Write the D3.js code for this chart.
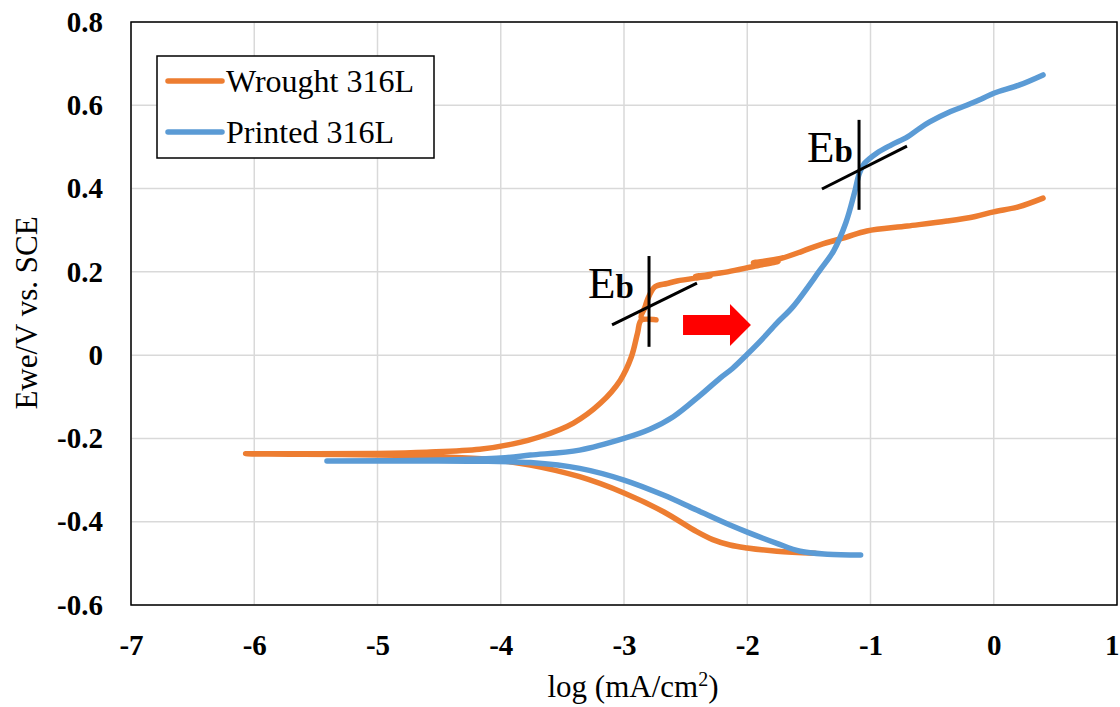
<!DOCTYPE html>
<html>
<head>
<meta charset="utf-8">
<script src="https://cdn.jsdelivr.net/npm/d3@7"></script>
<style>
  body { margin: 0; background: #fff; }
  svg text { font-family: "Liberation Serif", "Times New Roman", serif; }
</style>
</head>
<body>
<svg id="chart" width="1120" height="707"></svg>
<script>
// axis ticks
var xTicks = [-7, -6, -5, -4, -3, -2, -1, 0, 1];
var yTicks = [-0.6, -0.4, -0.2, 0, 0.2, 0.4, 0.6, 0.8];

// series names, in legend order
var seriesNames = ["Wrought 316L", "Printed 316L"];

// wrought 316L, scan order: cathodic branch then anodic branch (log i, E)
var wroughtLogI = [-1.45, -1.76, -2.0, -2.14, -2.28, -2.41, -2.68, -3.0, -3.36, -3.76, -4.1, -4.5, -5.0, -5.6, -6.07,
  -5.5, -5.0, -4.6, -4.17, -3.9, -3.68, -3.41, -3.19, -3.03, -2.94, -2.89, -2.86, -2.74, -2.86, -2.83, -2.81, -2.75,
  -2.65, -2.57, -2.4, -2.3, -2.42, -2.16, -1.95, -1.75, -1.95, -1.73, -1.55, -1.41, -1.2, -1.03, -0.7, -0.38, -0.15, 0.0, 0.2, 0.40];
var wroughtE = [-0.476, -0.471, -0.463, -0.456, -0.443, -0.424, -0.376, -0.331, -0.292, -0.264, -0.25, -0.244, -0.24, -0.238, -0.237,
  -0.237, -0.236, -0.233, -0.226, -0.213, -0.196, -0.163, -0.115, -0.06, -0.004, 0.053, 0.084, 0.085, 0.09, 0.115, 0.133, 0.164,
  0.172, 0.178, 0.186, 0.19, 0.189, 0.2, 0.213, 0.225, 0.222, 0.232, 0.25, 0.265, 0.283, 0.298, 0.31, 0.322, 0.333, 0.344, 0.356, 0.377];

// printed 316L, same scan order
var printedLogI = [-1.08, -1.35, -1.57, -1.76, -2.0, -2.14, -2.41, -2.68, -3.0, -3.36, -3.76, -4.1, -4.6, -5.41,
  -5.0, -4.5, -4.0, -3.76, -3.36, -3.0, -2.79, -2.6, -2.38, -2.22, -2.12, -2.0, -1.88, -1.76, -1.63, -1.41, -1.3,
  -1.2, -1.13, -1.09, -1.05, -0.95, -0.83, -0.70, -0.6, -0.52, -0.35, -0.22, -0.1, 0.0, 0.21, 0.40];
var printedE = [-0.48, -0.478, -0.471, -0.452, -0.425, -0.408, -0.372, -0.336, -0.3, -0.272, -0.258, -0.255, -0.254, -0.254,
  -0.254, -0.252, -0.247, -0.24, -0.228, -0.2, -0.178, -0.148, -0.096, -0.055, -0.032, 0.002, 0.038, 0.077, 0.116, 0.204, 0.25,
  0.318, 0.39, 0.437, 0.46, 0.485, 0.505, 0.524, 0.545, 0.56, 0.585, 0.60, 0.615, 0.629, 0.649, 0.673];

// breakdown potential markers: [x1, y1, x2, y2] in data units
var ebWroughtLines = [[-2.797, 0.238, -2.797, 0.020], [-3.097, 0.0725, -2.408, 0.173]];
var ebPrintedLines = [[-1.093, 0.565, -1.093, 0.349], [-1.394, 0.399, -0.704, 0.502]];
var ebLabels = [[-3.292, 0.137], [-1.515, 0.464]];

// red arrow outline in data units
var arrowPts = [[-2.521, 0.0965], [-2.140, 0.0965], [-2.140, 0.123], [-1.970, 0.0725],
  [-2.140, 0.022], [-2.140, 0.0485], [-2.521, 0.0485]];

var colors = ["#ED7D31", "#5B9BD5"];

var svg = d3.select("#chart");
var margin = {left: 131, top: 22, right: 3, bottom: 102};
var width = 1120 - margin.left - margin.right;
var height = 707 - margin.top - margin.bottom;

var x = d3.scaleLinear().domain([-7, 1]).range([0, width]);
var y = d3.scaleLinear().domain([-0.6, 0.8]).range([height, 0]);

var g = svg.append("g").attr("transform", "translate(" + margin.left + "," + margin.top + ")");

// gridlines
g.selectAll(".vgrid").data(xTicks).enter().append("line")
  .attr("x1", function (d) { return x(d); }).attr("x2", function (d) { return x(d); })
  .attr("y1", 0).attr("y2", height)
  .attr("stroke", "#d9d9d9").attr("stroke-width", 1.5);
g.selectAll(".hgrid").data(yTicks).enter().append("line")
  .attr("y1", function (d) { return y(d); }).attr("y2", function (d) { return y(d); })
  .attr("x1", 0).attr("x2", width)
  .attr("stroke", "#d9d9d9").attr("stroke-width", 1.5);

// axes (labels only, frame drawn separately); plain hyphen for negatives
var xAxis = g.append("g").attr("transform", "translate(0," + height + ")")
  .call(d3.axisBottom(x).tickValues(xTicks).tickSize(0).tickFormat(function (d) { return String(d); }));
var yAxis = g.append("g")
  .call(d3.axisLeft(y).tickValues(yTicks).tickSize(0).tickPadding(28)
    .tickFormat(function (d) { return d === 0 ? "0" : d.toFixed(1); }));
[xAxis, yAxis].forEach(function (a) {
  a.select(".domain").remove();
  a.selectAll("text").attr("font-family", "Liberation Serif, serif").attr("font-size", 29)
    .attr("font-weight", "bold").attr("fill", "#000");
});
xAxis.selectAll("text").attr("dy", "0.71em").attr("y", 29);
// the last label sits against the right edge, as in the original
xAxis.selectAll("text").filter(function (d) { return d === 1; })
  .attr("text-anchor", "end").attr("dx", 2);

// plot frame
g.append("rect").attr("width", width).attr("height", height)
  .attr("fill", "none").attr("stroke", "#000").attr("stroke-width", 1.5);

// curves
var line = d3.line()
  .x(function (d) { return x(d[0]); })
  .y(function (d) { return y(d[1]); })
  .curve(d3.curveCatmullRom.alpha(0.5));

var seriesData = [
  d3.zip(wroughtLogI, wroughtE),
  d3.zip(printedLogI, printedE)
];

g.selectAll(".series").data(seriesData).enter().append("path")
  .attr("d", line)
  .attr("fill", "none")
  .attr("stroke", function (d, i) { return colors[i]; })
  .attr("stroke-width", 5.5)
  .attr("stroke-linecap", "round")
  .attr("stroke-linejoin", "round");

// Eb markers
g.selectAll(".eb").data(ebWroughtLines.concat(ebPrintedLines)).enter().append("line")
  .attr("x1", function (d) { return x(d[0]); }).attr("y1", function (d) { return y(d[1]); })
  .attr("x2", function (d) { return x(d[2]); }).attr("y2", function (d) { return y(d[3]); })
  .attr("stroke", "#000").attr("stroke-width", 3);

ebLabels.forEach(function (p) {
  var t = g.append("text")
    .attr("x", x(p[0])).attr("y", y(p[1]))
    .attr("font-size", 45).attr("fill", "#000");
  t.append("tspan").text("E");
  t.append("tspan").attr("font-size", 33).attr("font-weight", "bold").text("b");
});

// red arrow
g.append("path")
  .attr("d", "M" + arrowPts.map(function (p) { return x(p[0]) + "," + y(p[1]); }).join("L") + "Z")
  .attr("fill", "#FF0000");

// legend
var legend = svg.append("g");
legend.append("rect").attr("x", 157).attr("y", 56).attr("width", 277).attr("height", 102)
  .attr("fill", "#fff").attr("stroke", "#000").attr("stroke-width", 1.5);
seriesNames.forEach(function (name, i) {
  var ly = 81 + i * 51;
  legend.append("line").attr("x1", 168).attr("x2", 222).attr("y1", ly).attr("y2", ly)
    .attr("stroke", colors[i]).attr("stroke-width", 5.5).attr("stroke-linecap", "round");
  legend.append("text").attr("x", 226).attr("y", ly + 11)
    .attr("font-size", 32).attr("fill", "#000").text(name);
});

// axis titles
var xTitle = svg.append("text").attr("x", 633).attr("y", 697).attr("text-anchor", "middle")
  .attr("font-size", 31).attr("fill", "#000");
xTitle.append("tspan").text("log (mA/cm");
xTitle.append("tspan").attr("font-size", 20).attr("dy", -11).text("2");
xTitle.append("tspan").attr("dy", 11).text(")");

svg.append("text").attr("transform", "translate(37,313) rotate(-90)")
  .attr("text-anchor", "middle").attr("font-size", 31).attr("fill", "#000")
  .text("Ewe/V vs. SCE");
</script>
</body>
</html>
